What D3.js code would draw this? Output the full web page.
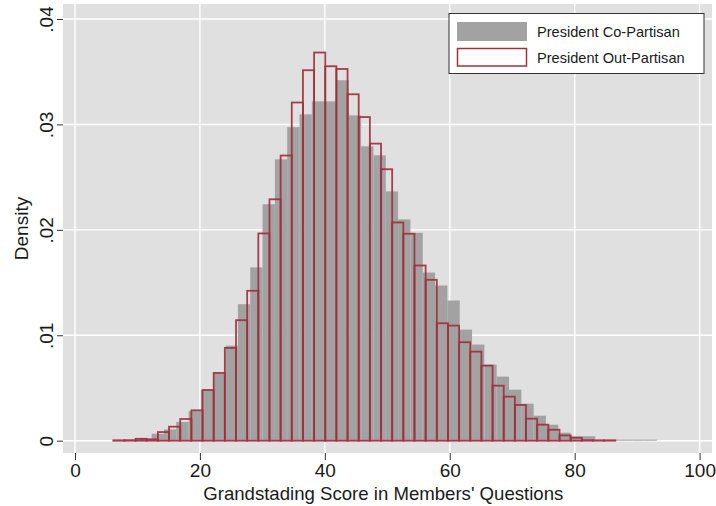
<!DOCTYPE html>
<html>
<head>
<meta charset="utf-8">
<script src="https://cdn.jsdelivr.net/npm/d3@7"></script>
<style>
  body { margin: 0; background: #fff; }
  text { font-family: "Liberation Sans", Arial, Helvetica, sans-serif; fill: #1a1a1a; }
</style>
</head>
<body>
<div id="container"></div>
<script>
// histogram bins: first edge + bin width (score units), densities per bin
const coStart  = 6.35;
const coWidth  = 1.973;
const coDensity = [
  0.00003, 0.00008, 0.0002, 0.00066, 0.00107, 0.00178, 0.0028, 0.0048, 0.0064, 0.00902,
  0.01295, 0.01644, 0.02243, 0.02669, 0.02974, 0.03096, 0.03219, 0.03219, 0.03419, 0.03086,
  0.02792, 0.02707, 0.02365, 0.02099, 0.01972, 0.01595, 0.01472, 0.0133, 0.01054, 0.00912,
  0.00722, 0.00608, 0.00484, 0.00351, 0.00237, 0.00152, 0.00076, 0.00042, 0.00042, 0.0001,
  0.0001, 0.0001, 0.0001, 0.0001
];

const outStart = 6.13;
const outWidth = 1.786;
const outDensity = [
  0.00004, 0.00005, 0.00018, 0.00013, 0.00082, 0.00133, 0.00206, 0.00288, 0.00481, 0.00643,
  0.0088, 0.01143, 0.01422, 0.01966, 0.0229, 0.02705, 0.03208, 0.03514, 0.03682, 0.03552,
  0.03526, 0.03286, 0.0307, 0.02818, 0.02575, 0.0207, 0.01963, 0.01662, 0.01526, 0.01114,
  0.01092, 0.00934, 0.00845, 0.00712, 0.00522, 0.00418, 0.00339, 0.00209, 0.00152, 0.00104,
  0.0005, 0.00028, 0.00005, 0.00003, 0.00003
];

const xTicks = [0, 20, 40, 60, 80, 100];
const yTicks = [0, 0.01, 0.02, 0.03, 0.04];
const yTickLabels = ["0", ".01", ".02", ".03", ".04"];
const seriesNames = ["President Co-Partisan", "President Out-Partisan"];

const width  = 716;
const height = 506;
const plot   = { left: 63, right: 712, top: 4, bottom: 453 };

const grayFill = "#a2a2a2";
const redLine  = "#a0303c";

const toBins = (start, w, dens) =>
  dens.map((d, i) => ({ x0: start + i * w, x1: start + (i + 1) * w, d }));

const coBins  = toBins(coStart, coWidth, coDensity);
const outBins = toBins(outStart, outWidth, outDensity);

const svg = d3.select("#container")
  .append("svg")
    .attr("width", width)
    .attr("height", height);

const x = d3.scaleLinear().domain([0, 100]).range([75, 699.6]);
const y = d3.scaleLinear().domain([0, 0.04]).range([440.7, 19]);

// plot region
svg.append("rect")
  .attr("x", plot.left)
  .attr("y", plot.top)
  .attr("width", plot.right - plot.left)
  .attr("height", plot.bottom - plot.top)
  .attr("fill", "#e0e0e0");

// grid
svg.append("g")
  .selectAll("line")
  .data(yTicks)
  .join("line")
    .attr("x1", plot.left).attr("x2", plot.right)
    .attr("y1", d => y(d)).attr("y2", d => y(d))
    .attr("stroke", "#fff").attr("stroke-width", 1.4);

svg.append("g")
  .selectAll("line")
  .data(xTicks)
  .join("line")
    .attr("x1", d => x(d)).attr("x2", d => x(d))
    .attr("y1", plot.top).attr("y2", plot.bottom)
    .attr("stroke", "#fff").attr("stroke-width", 1.4);

// bars
svg.append("g")
  .selectAll("rect")
  .data(coBins)
  .join("rect")
    .attr("x", d => x(d.x0))
    .attr("y", d => y(d.d))
    .attr("width", d => x(d.x1) - x(d.x0))
    .attr("height", d => y(0) - y(d.d))
    .attr("fill", grayFill);

svg.append("g")
  .selectAll("rect")
  .data(outBins)
  .join("rect")
    .attr("x", d => x(d.x0))
    .attr("y", d => y(d.d))
    .attr("width", d => x(d.x1) - x(d.x0))
    .attr("height", d => y(0) - y(d.d))
    .attr("fill", "none")
    .attr("stroke", redLine)
    .attr("stroke-width", 1.8)
    .attr("stroke-opacity", 0.92);

// axes
const xAxis = svg.append("g")
  .attr("transform", `translate(0,${plot.bottom})`)
  .call(d3.axisBottom(x).tickValues(xTicks).tickSize(7).tickPadding(4).tickFormat(d3.format("d")));

const yAxis = svg.append("g")
  .attr("transform", `translate(${plot.left},0)`)
  .call(d3.axisLeft(y).tickValues(yTicks).tickSize(6).tickFormat((d, i) => yTickLabels[i]));

[xAxis, yAxis].forEach(g => {
  g.select(".domain").remove();
  g.selectAll(".tick line").attr("stroke", "#333");
  g.selectAll("text")
    .attr("font-family", "Liberation Sans, Arial, sans-serif")
    .attr("font-size", 19)
    .attr("fill", "#1a1a1a");
});

yAxis.selectAll(".tick text")
  .attr("transform", "rotate(-90)")
  .attr("x", 0)
  .attr("y", -10)
  .attr("dy", 0)
  .attr("text-anchor", "middle");

// axis titles
svg.append("text")
  .attr("x", x(50) - 4)
  .attr("y", 500)
  .attr("text-anchor", "middle")
  .attr("font-size", 18.6)
  .text("Grandstading Score in Members' Questions");

svg.append("text")
  .attr("transform", `translate(28,${(plot.top + plot.bottom) / 2}) rotate(-90)`)
  .attr("text-anchor", "middle")
  .attr("font-size", 19)
  .text("Density");

// legend
const legend = svg.append("g");
legend.append("rect")
  .attr("x", 449).attr("y", 13.5)
  .attr("width", 255).attr("height", 60)
  .attr("fill", "#fff").attr("stroke", "#333").attr("stroke-width", 1);

legend.append("rect")
  .attr("x", 457).attr("y", 22)
  .attr("width", 70).attr("height", 19)
  .attr("fill", grayFill);

legend.append("rect")
  .attr("x", 457.5).attr("y", 48.5)
  .attr("width", 69).attr("height", 17.5)
  .attr("fill", "#fff").attr("stroke", redLine).attr("stroke-width", 1.5);

legend.selectAll("text.leg")
  .data(seriesNames)
  .join("text")
    .attr("class", "leg")
    .attr("x", 537)
    .attr("y", (d, i) => 31.7 + i * 26)
    .attr("dy", "0.35em")
    .attr("font-size", 14.6)
    .text(d => d);
</script>
</body>
</html>
